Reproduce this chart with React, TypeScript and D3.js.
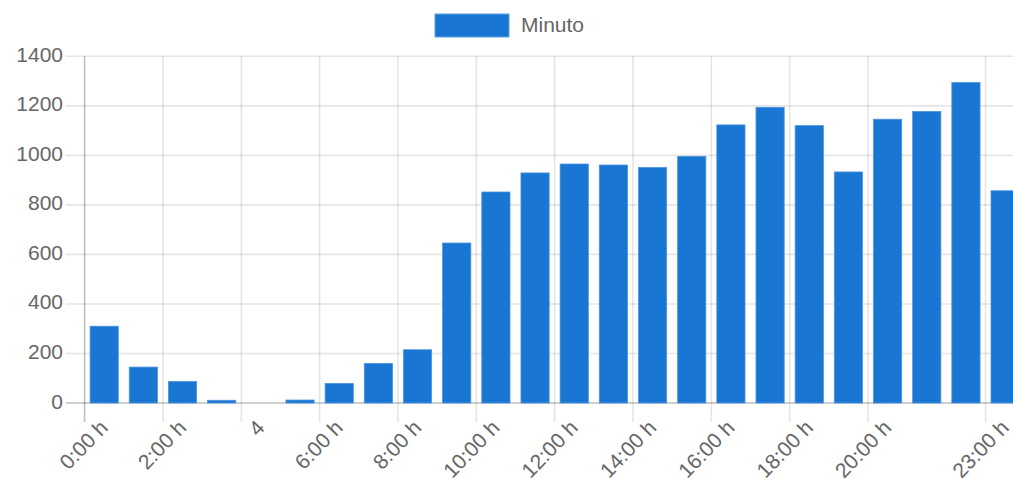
import React from "react";
import * as d3 from "d3";

const hourLabels = [
  "0:00 h", "1:00 h", "2:00 h", "3:00 h", "4", "5:00 h", "6:00 h", "7:00 h",
  "8:00 h", "9:00 h", "10:00 h", "11:00 h", "12:00 h", "13:00 h", "14:00 h",
  "15:00 h", "16:00 h", "17:00 h", "18:00 h", "19:00 h", "20:00 h", "21:00 h",
  "22:00 h", "23:00 h",
];
const minutes = [
  310, 145, 87, 11, 0, 12, 79, 160, 215, 646, 852, 929, 965, 961, 951, 996,
  1123, 1194, 1120, 933, 1146, 1177, 1294, 857,
];
const shownTicks = [0, 2, 4, 6, 8, 10, 12, 14, 16, 18, 20, 23];
const yTicks = [0, 200, 400, 600, 800, 1000, 1200, 1400];
const seriesName = "Minuto";

const W = 1013;
const H = 483;
const FONT = "'Liberation Sans', Arial, Helvetica, sans-serif";
const BLUE = "#1976d2";

export default function App() {
  const x = d3
    .scaleBand<string>()
    .domain(hourLabels)
    .range([84.6, 1024.7])
    .padding(0);
  const y = d3.scaleLinear().domain([0, 1400]).range([403, 56.3]);
  const step = x.step();
  const barW = step * 0.72;
  const left = 84.6;
  const right = W;

  return (
    <svg
      width={W}
      height={H}
      style={{ position: "absolute", left: 0, top: 0, background: "#fff" }}
      fontFamily={FONT}
    >
      {/* legend */}
      <rect x={435} y={14} width={74} height={23} fill={BLUE} stroke="#5f9fe0" strokeWidth={1} />
      <text x={521} y={26} fontSize={21} fill="#666" dominantBaseline="middle">
        {seriesName}
      </text>

      {/* horizontal grid */}
      {yTicks.map((t) => (
        <g key={t}>
          <line
            x1={left - 19}
            x2={right}
            y1={y(t)}
            y2={y(t)}
            stroke={t === 0 ? "rgba(0,0,0,0.25)" : "rgba(0,0,0,0.1)"}
            strokeWidth={1.6}
          />
          <text
            x={63}
            y={y(t)}
            fontSize={21}
            fill="#666"
            textAnchor="end"
            dominantBaseline="middle"
          >
            {t}
          </text>
        </g>
      ))}

      {/* vertical grid at shown ticks */}
      {shownTicks.map((i) => {
        const gx = x(hourLabels[i])!;
        return (
          <line
            key={i}
            x1={gx}
            x2={gx}
            y1={y(1400)}
            y2={y(0) + 19}
            stroke={i === 0 ? "rgba(0,0,0,0.25)" : "rgba(0,0,0,0.1)"}
            strokeWidth={1.6}
          />
        );
      })}

      {/* bars */}
      {minutes.map((v, i) => {
        const cx = x(hourLabels[i])! + step / 2;
        return (
          <rect
            key={i}
            x={cx - barW / 2}
            y={y(v)}
            width={barW}
            height={y(0) - y(v)}
            fill={BLUE}
            stroke="#4b93de"
            strokeWidth={0.8}
          />
        );
      })}

      {/* x tick labels */}
      {shownTicks.map((i) => {
        const cx = x(hourLabels[i])! + step / 2;
        return (
          <text
            key={i}
            transform={`translate(${cx + 1},${425}) rotate(-46)`}
            fontSize={21}
            fill="#666"
            textAnchor="end"
            dominantBaseline="middle"
          >
            {hourLabels[i]}
          </text>
        );
      })}
    </svg>
  );
}
